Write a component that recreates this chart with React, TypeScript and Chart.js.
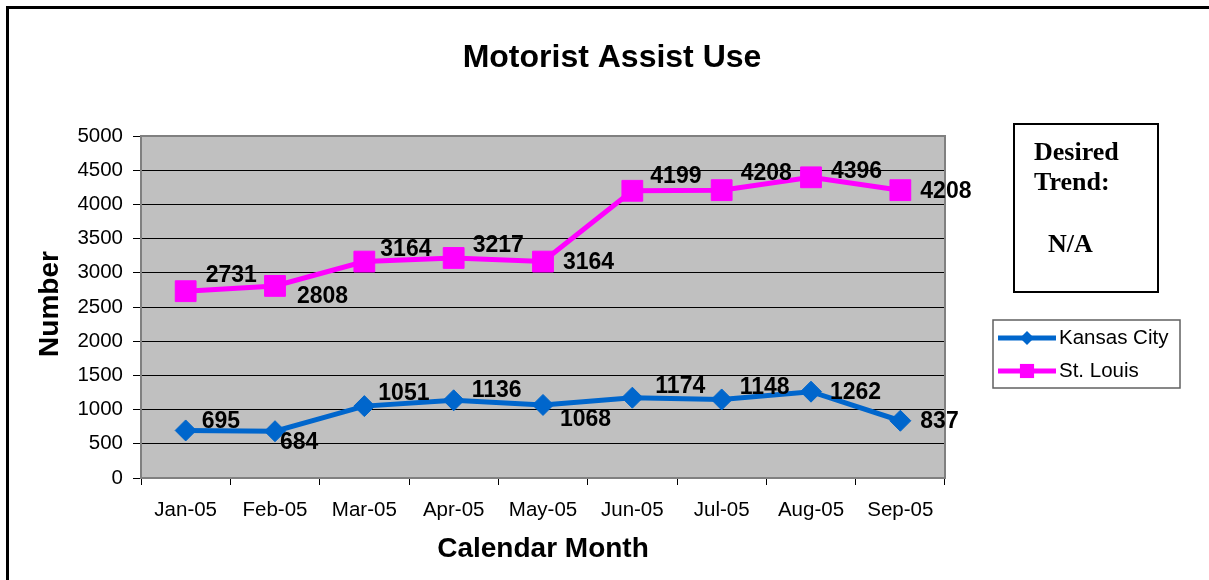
import { useEffect, useRef } from 'react';
import { Chart, registerables } from 'chart.js';

Chart.register(...registerables);

const months = ['Jan-05', 'Feb-05', 'Mar-05', 'Apr-05', 'May-05', 'Jun-05', 'Jul-05', 'Aug-05', 'Sep-05'];
const kansasCity = [695, 684, 1051, 1136, 1068, 1174, 1148, 1262, 837];
const stLouis = [2731, 2808, 3164, 3217, 3164, 4199, 4208, 4396, 4208];
const yMin = 0;
const yMax = 5000;
const yStep = 500;
const seriesNames = ['Kansas City', 'St. Louis'];
const chartTitle = 'Motorist Assist Use';
const xTitle = 'Calendar Month';
const yTitle = 'Number';
const trendHeading = ['Desired', 'Trend:'];
const trendValue = 'N/A';

// label placement nudges (style only): [dx, dy] from the point
const kcLabelNudge = [[16, -10], [5, 10], [14, -13], [18, -11], [17, 14], [23, -12], [18, -13], [19, 0], [20, 0]];
const stlLabelNudge = [[20, -17], [22, 10], [16, -13], [19, -13], [20, 0], [18, -15], [19, -18], [20, -7], [20, 0]];

const SANS = '"Liberation Sans", Arial, sans-serif';
const SERIF = '"Liberation Serif", "Times New Roman", serif';
const KC_COLOR = '#0066CC';
const STL_COLOR = '#FF00FF';

const decorPlugin = {
  id: 'decor',
  beforeDraw(chart: any) {
    const { ctx, chartArea: a } = chart;
    ctx.save();
    ctx.fillStyle = '#ffffff';
    ctx.fillRect(0, 0, chart.width, chart.height);
    ctx.fillStyle = '#C0C0C0';
    ctx.fillRect(a.left, a.top, a.right - a.left, a.bottom - a.top);
    ctx.restore();
  },
  beforeDatasetsDraw(chart: any) {
    const { ctx, chartArea: a } = chart;
    ctx.save();
    ctx.strokeStyle = '#808080';
    ctx.lineWidth = 2;
    ctx.strokeRect(a.left, a.top, a.right - a.left, a.bottom - a.top);
    ctx.restore();
  },
  afterDatasetsDraw(chart: any) {
    const { ctx } = chart;
    const nudges = [kcLabelNudge, stlLabelNudge];
    ctx.save();
    ctx.font = `bold 23px ${SANS}`;
    ctx.fillStyle = '#000';
    ctx.textAlign = 'left';
    ctx.textBaseline = 'middle';
    chart.data.datasets.forEach((ds: any, di: number) => {
      const meta = chart.getDatasetMeta(di);
      meta.data.forEach((pt: any, i: number) => {
        const [dx, dy] = nudges[di][i];
        ctx.fillText(String(ds.data[i]), pt.x + dx, pt.y + dy + 1);
      });
    });
    ctx.restore();
  },
  afterDraw(chart: any) {
    const { ctx, chartArea: a } = chart;
    ctx.save();
    // outer frame
    ctx.fillStyle = '#000';
    ctx.fillRect(6, 6, 3, chart.height);
    ctx.fillRect(6, 6, chart.width, 3);

    // chart title
    ctx.fillStyle = '#000';
    ctx.textBaseline = 'alphabetic';
    ctx.textAlign = 'center';
    ctx.font = `bold 32px ${SANS}`;
    ctx.fillText(chartTitle, 612, 67);

    // x axis title
    ctx.font = `bold 28px ${SANS}`;
    ctx.fillText(xTitle, (a.left + a.right) / 2, 557);

    // y axis title
    ctx.save();
    ctx.translate(58, (a.top + a.bottom) / 2 - 3);
    ctx.rotate(-Math.PI / 2);
    ctx.fillText(yTitle, 0, 0);
    ctx.restore();

    // desired trend box
    ctx.strokeStyle = '#000';
    ctx.lineWidth = 2;
    ctx.strokeRect(1014, 124, 144, 168);
    ctx.textAlign = 'left';
    ctx.font = `bold 26px ${SERIF}`;
    ctx.fillText(trendHeading[0], 1034, 160);
    ctx.fillText(trendHeading[1], 1034, 190);
    ctx.fillText(trendValue, 1048, 252);

    // legend
    ctx.strokeStyle = '#606060';
    ctx.lineWidth = 1.5;
    ctx.strokeRect(993, 320, 187, 68);
    const items = [
      { y: 338, color: KC_COLOR, style: 'rectRot', r: 7 },
      { y: 371, color: STL_COLOR, style: 'rect', r: 10 },
    ];
    items.forEach((it, i) => {
      ctx.strokeStyle = it.color;
      ctx.lineWidth = 5;
      ctx.beginPath();
      ctx.moveTo(998, it.y);
      ctx.lineTo(1056, it.y);
      ctx.stroke();
      ctx.fillStyle = it.color;
      ctx.beginPath();
      if (it.style === 'rectRot') {
        ctx.moveTo(1027, it.y - it.r);
        ctx.lineTo(1027 + it.r, it.y);
        ctx.lineTo(1027, it.y + it.r);
        ctx.lineTo(1027 - it.r, it.y);
        ctx.closePath();
      } else {
        const h = it.r * Math.SQRT1_2;
        ctx.rect(1027 - h, it.y - h, 2 * h, 2 * h);
      }
      ctx.fill();
      ctx.fillStyle = '#000';
      ctx.font = `20.5px ${SANS}`;
      ctx.textBaseline = 'middle';
      ctx.fillText(seriesNames[i], 1059, it.y);
    });
    ctx.restore();
  },
};

export default function App() {
  const canvasRef = useRef<HTMLCanvasElement | null>(null);

  useEffect(() => {
    const canvas = canvasRef.current;
    if (!canvas) return;
    const chart = new Chart(canvas, {
      type: 'line',
      data: {
        labels: months,
        datasets: [
          {
            label: seriesNames[0],
            data: kansasCity,
            borderColor: KC_COLOR,
            backgroundColor: KC_COLOR,
            borderWidth: 5,
            tension: 0,
            pointStyle: 'rectRot',
            pointRadius: 10.5,
            pointBorderWidth: 1,
            pointBorderColor: KC_COLOR,
            pointBackgroundColor: KC_COLOR,
          },
          {
            label: seriesNames[1],
            data: stLouis,
            borderColor: STL_COLOR,
            backgroundColor: STL_COLOR,
            borderWidth: 5,
            tension: 0,
            pointStyle: 'rect',
            pointRadius: 14.7,
            pointBorderWidth: 1,
            pointBorderColor: STL_COLOR,
            pointBackgroundColor: STL_COLOR,
          },
        ],
      },
      options: {
        responsive: false,
        animation: false,
        events: [],
        layout: { padding: { left: 0, top: 136, right: 264, bottom: 42 } },
        plugins: {
          legend: { display: false },
          title: { display: false },
          tooltip: { enabled: false },
        },
        scales: {
          x: {
            type: 'category',
            offset: true,
            grid: {
              offset: true,
              drawOnChartArea: false,
              drawTicks: true,
              tickLength: 7,
              color: '#000',
              lineWidth: 1,
            },
            border: { display: false },
            ticks: {
              color: '#000',
              font: { family: SANS, size: 20.5 },
              padding: 13,
              maxRotation: 0,
              autoSkip: false,
            },
            afterFit: (scale: any) => {
              scale.height = 60;
            },
          },
          y: {
            min: yMin,
            max: yMax,
            grid: {
              color: '#000',
              lineWidth: 1,
              tickLength: 8,
            },
            border: { display: false },
            ticks: {
              stepSize: yStep,
              color: '#000',
              font: { family: SANS, size: 20.5 },
              padding: 10,
              callback: (v: any) => String(v),
            },
            afterFit: (scale: any) => {
              scale.width = 141;
            },
          },
        },
      },
      plugins: [decorPlugin],
    });
    return () => chart.destroy();
  }, []);

  return (
    <div style={{ position: 'absolute', left: 0, top: 0, width: 1209, height: 580, overflow: 'hidden' }}>
      <canvas ref={canvasRef} width={1209} height={580} style={{ display: 'block', width: 1209, height: 580 }} />
    </div>
  );
}
